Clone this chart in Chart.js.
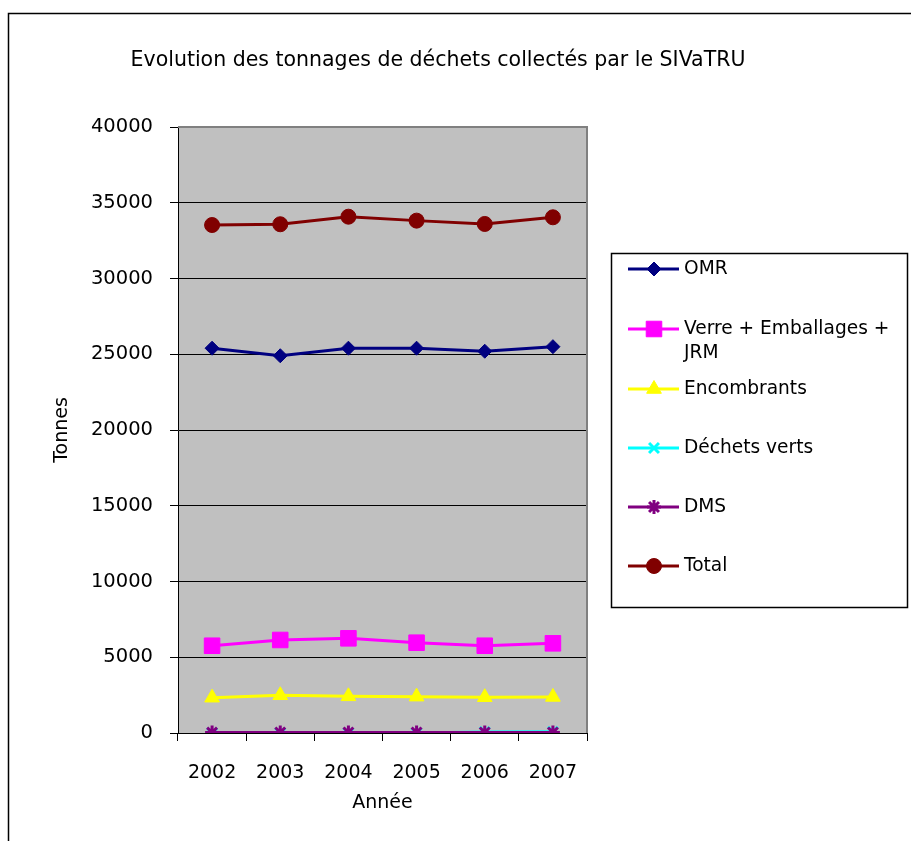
<!DOCTYPE html>
<html>
<head>
<meta charset="utf-8">
<script src="https://cdn.jsdelivr.net/npm/chart.js@4"></script>
<style>
  html, body { margin: 0; padding: 0; background: #fff; }
  canvas { display: block; }
</style>
</head>
<body>
<canvas id="chart" width="911" height="841"></canvas>
<script>
const years = ['2002', '2003', '2004', '2005', '2006', '2007'];
const omr = [25400, 24900, 25400, 25400, 25200, 25500];
const verre = [5760, 6140, 6250, 5960, 5760, 5920];
const encombrants = [2330, 2490, 2420, 2400, 2360, 2380];
const dechetsVerts = [0, 0, 0, 0, 70, 80];
const dms = [30, 35, 35, 35, 40, 40];
const total = [33530, 33580, 34080, 33820, 33600, 34040];

const FONT = 'DejaVu Sans';

function serie(label, data, color, style, radius, order, legendLines) {
  return {
    label: label,
    legendLines: legendLines || [label],
    data: data,
    borderColor: color,
    backgroundColor: color,
    borderWidth: 3,
    pointStyle: style,
    pointRadius: radius,
    pointBorderWidth: style === 'crossRot' || style === 'star' ? 3 : 1,
    pointBackgroundColor: color,
    pointBorderColor: color,
    tension: 0,
    order: order,
  };
}

// plot background, frame, gray plot border, title
const decor = {
  id: 'decor',
  beforeDraw(chart) {
    const { ctx, chartArea: a } = chart;
    ctx.save();
    ctx.fillStyle = '#C0C0C0';
    ctx.fillRect(a.left, a.top, a.right - a.left, a.bottom - a.top);
    ctx.restore();
  },
  beforeDatasetsDraw(chart) {
    const { ctx, chartArea: a } = chart;
    ctx.save();
    ctx.strokeStyle = '#808080';
    ctx.lineWidth = 2;
    ctx.beginPath();
    ctx.moveTo(a.left, a.top);
    ctx.lineTo(a.right, a.top);
    ctx.lineTo(a.right, a.bottom);
    ctx.stroke();
    ctx.restore();
  },
  afterDraw(chart) {
    const { ctx } = chart;
    ctx.save();
    ctx.strokeStyle = '#000';
    ctx.lineWidth = 1.5;
    ctx.strokeRect(8.5, 13.5, 1000, 1000);
    ctx.fillStyle = '#000';
    ctx.font = '20.5px "' + FONT + '"';
    ctx.textAlign = 'center';
    ctx.textBaseline = 'middle';
    ctx.fillText('Evolution des tonnages de déchets collectés par le SIVaTRU', 438, 61);
    ctx.restore();
  }
};

// legend box on the right
const boxLegend = {
  id: 'boxLegend',
  afterDraw(chart) {
    const { ctx } = chart;
    const rows = [269, 329, 389, 448, 507, 566];
    ctx.save();
    ctx.strokeStyle = '#000';
    ctx.lineWidth = 1.5;
    ctx.strokeRect(611.5, 253.5, 296, 354);
    ctx.font = '18.6px "' + FONT + '"';
    ctx.textAlign = 'left';
    ctx.textBaseline = 'middle';
    chart.data.datasets.forEach((ds, i) => {
      const y = rows[i];
      ctx.strokeStyle = ds.borderColor;
      ctx.lineWidth = 3;
      ctx.beginPath();
      ctx.moveTo(628, y);
      ctx.lineTo(679, y);
      ctx.stroke();
      ctx.fillStyle = ds.backgroundColor;
      ctx.lineWidth = ds.pointBorderWidth;
      if (Chart.helpers && Chart.helpers.drawPoint) {
        Chart.helpers.drawPoint(ctx, {
          pointStyle: ds.pointStyle,
          radius: ds.pointRadius,
          borderWidth: ds.pointBorderWidth,
          rotation: 0
        }, 654, y);
      }
      ctx.fillStyle = '#000';
      ds.legendLines.forEach((t, k) => ctx.fillText(t, 684, y + k * 24));
    });
    ctx.restore();
  }
};

new Chart(document.getElementById('chart'), {
  type: 'line',
  data: {
    labels: years,
    datasets: [
      serie('OMR', omr, '#000080', 'rectRot', 7, 6),
      serie('Verre + Emballages + JRM', verre, '#FF00FF', 'rect', 11, 5, ['Verre + Emballages +', 'JRM']),
      serie('Encombrants', encombrants, '#FFFF00', 'triangle', 8.5, 4),
      serie('Déchets verts', dechetsVerts, '#00FFFF', 'crossRot', 7, 3),
      serie('DMS', dms, '#800080', 'star', 7, 2),
      serie('Total', total, '#800000', 'circle', 7.5, 1),
    ]
  },
  options: {
    responsive: false,
    animation: false,
    layout: { padding: { left: 40, right: 324, top: 127, bottom: 20 } },
    plugins: {
      legend: { display: false },
      title: { display: false },
      tooltip: { enabled: false },
    },
    scales: {
      x: {
        offset: true,
        afterFit: s => { s.height = 88; },
        grid: {
          offset: true,
          drawOnChartArea: false,
          color: '#000',
          tickLength: 8,
          tickColor: '#000',
        },
        border: { color: '#000', width: 1 },
        ticks: { color: '#000', padding: 21, font: { family: FONT, size: 19 } },
        title: {
          display: true,
          text: 'Année',
          color: '#000',
          font: { family: FONT, size: 19 },
          padding: { top: 0, bottom: 7 },
        },
      },
      y: {
        min: 0,
        max: 40000,
        afterFit: s => { s.width = 138; },
        grid: {
          color: '#000',
          lineWidth: 1,
          tickLength: 8,
          tickColor: '#000',
        },
        border: { color: '#000', width: 1 },
        ticks: {
          stepSize: 5000,
          color: '#000',
          padding: 17,
          font: { family: FONT, size: 19.5 },
          callback: v => String(v),
        },
        title: {
          display: true,
          text: 'Tonnes',
          color: '#000',
          font: { family: FONT, size: 19 },
          padding: { top: 11, bottom: 0 },
        },
      },
    },
  },
  plugins: [decor, boxLegend],
});
</script>
</body>
</html>
